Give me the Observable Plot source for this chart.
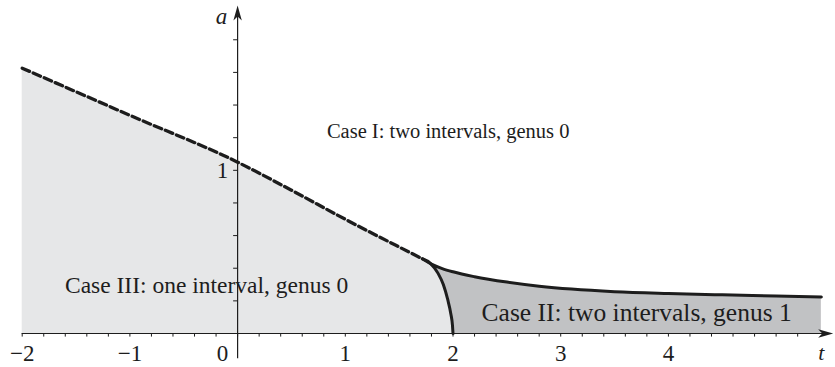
<!DOCTYPE html>
<html>
<head>
<meta charset="utf-8">
<script src="https://cdn.jsdelivr.net/npm/d3@7"></script>
<script src="https://cdn.jsdelivr.net/npm/@observablehq/plot@0.6"></script>
<style>
  html, body { margin: 0; padding: 0; background: #fff; }
  #chart svg { display: block; }
  #chart svg, #chart svg text { font-family: "Liberation Serif", "DejaVu Serif", serif !important; }
</style>
</head>
<body>
<div id="chart"></div>
<script>
// Boundary between Case I and Case III (dashed): a as a function of t
const dashedT = [-2, -1, 0, 0.5, 1, 1.5, 1.715];
const dashedA = [1.626, 1.337, 1.05, 0.878, 0.70, 0.53, 0.458];

// Boundary between Case III and Case II (solid, meets the t-axis at t = 2)
const lowerT = [1.715, 1.79, 1.86, 1.91, 1.95, 1.98, 1.995, 2.0];
const lowerA = [0.458, 0.43, 0.37, 0.30, 0.21, 0.12, 0.05, 0];

// Boundary between Case I and Case II (solid)
const upperT = [1.715, 1.8, 1.9, 2.0, 2.2, 2.5, 2.8, 3.1, 3.5, 4.0, 4.5, 5.0, 5.42];
const upperA = [0.458, 0.425, 0.398, 0.378, 0.348, 0.315, 0.29, 0.272, 0.256, 0.245, 0.237, 0.23, 0.224];

// Axis ticks and labels
const tMinor = d3.range(-2, 5.21, 0.2).map(v => +v.toFixed(1));
const aMinor = d3.range(0.2, 1.81, 0.2).map(v => +v.toFixed(1));
const tLabelValues = [-2, -1, 0, 1, 2, 3, 4];
const tLabelTexts = ["−2", "−1", "0", "1", "2", "3", "4"];
const aLabelValues = [1];
const aLabelTexts = ["1"];

// Region labels
const regionNames = [
  "Case I: two intervals, genus 0",
  "Case III: one interval, genus 0",
  "Case II: two intervals, genus 1"
];
const regionT = [1.955, -0.288, 3.705];
const regionA = [1.236, 0.297, 0.127];
const regionSize = [20.5, 23.5, 25.5];

const zip = (xs, ys) => xs.map((x, i) => ({t: x, a: ys[i]}));
const dashed = zip(dashedT, dashedA);
const lower = zip(lowerT, lowerA);
const upper = zip(upperT, upperA);
const caseIIIBoundary = dashed.concat(lower.slice(1));

// Filled stealth arrowhead with its tip at the origin, pointing right
const stealth = {
  draw(context) {
    context.moveTo(0, 0);
    context.lineTo(-15, -4.2);
    context.lineTo(-11, 0);
    context.lineTo(-15, 4.2);
    context.closePath();
  }
};

const ink = "#1d1d1d";
const serif = "Liberation Serif";

const chart = Plot.plot({
  width: 835,
  height: 367,
  marginLeft: 21.7,
  marginRight: 2.3,
  marginTop: 5,
  marginBottom: 34,
  x: {domain: [-2, 5.53], axis: null},
  y: {domain: [0, 2.01], axis: null},
  style: {fontFamily: serif, background: "#fff"},
  marks: [
    // Case II region (under the upper curve), then Case III region on top
    Plot.areaY(upper, {x: "t", y: "a", fill: "#c1c2c4", curve: "monotone-x"}),
    Plot.areaY(caseIIIBoundary, {x: "t", y: "a", fill: "#e6e7e8", curve: "monotone-x"}),

    // axes
    Plot.ruleY([0], {x1: -2, x2: 5.47, stroke: ink, strokeWidth: 1.2}),
    Plot.ruleX([0], {y1: -0.155, y2: 1.96, stroke: ink, strokeWidth: 1.2}),
    Plot.ruleX(tMinor, {x: d => d, y1: 0, y2: -0.022, stroke: ink, strokeWidth: 1}),
    Plot.ruleY(aMinor, {y: d => d, x1: -0.037, x2: 0, stroke: ink, strokeWidth: 1}),
    Plot.dot([{t: 5.53, a: 0}], {x: "t", y: "a", symbol: stealth, fill: ink, stroke: null}),
    Plot.dot([{t: 0, a: 2.01}], {x: "t", y: "a", symbol: stealth, fill: ink, stroke: null, rotate: -90}),

    // tick labels
    Plot.text(tLabelValues.filter(d => d !== 0), {
      x: d => d, y: -0.125, text: d => tLabelTexts[tLabelValues.indexOf(d)],
      fontSize: 23, fontFamily: serif, fill: ink
    }),
    Plot.text([0], {x: d => d, y: -0.125, text: ["0"], dx: -15, fontSize: 23, fontFamily: serif, fill: ink}),
    Plot.text(aLabelValues, {x: -0.14, y: d => d, text: (d, i) => aLabelTexts[i], fontSize: 23, fontFamily: serif, fill: ink}),

    // axis names
    Plot.text(["a"], {x: -0.15, y: 1.94, text: d => d, fontSize: 23, fontFamily: serif, fontStyle: "italic", fill: ink}),
    Plot.text(["t"], {x: 5.42, y: -0.118, text: d => d, fontSize: 22, fontFamily: serif, fontStyle: "italic", fill: ink}),

    // boundaries
    Plot.line(dashed, {x: "t", y: "a", stroke: ink, strokeWidth: 3.3, strokeDasharray: "8,4", curve: "monotone-x"}),
    Plot.line(lower, {x: "t", y: "a", stroke: ink, strokeWidth: 3, curve: "monotone-x"}),
    Plot.line(upper, {x: "t", y: "a", stroke: ink, strokeWidth: 3, curve: "monotone-x"}),

    // region labels
    ...regionNames.map((name, i) =>
      Plot.text([name], {x: regionT[i], y: regionA[i], text: d => d, fontSize: regionSize[i], fontFamily: serif, fill: ink})
    )
  ]
});

document.getElementById("chart").append(chart);
</script>
</body>
</html>
